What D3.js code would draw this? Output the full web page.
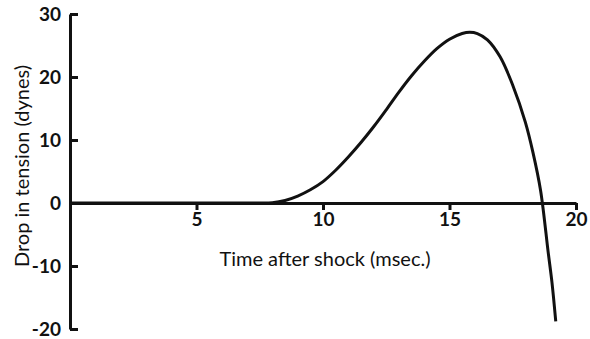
<!DOCTYPE html>
<html>
<head>
<meta charset="utf-8">
<script src="https://cdn.jsdelivr.net/npm/d3@7"></script>
<style>
  body { margin: 0; background: #fff; }
  svg text { font-family: Lato, "Open Sans", sans-serif; fill: #111; }
</style>
</head>
<body>
<div id="chart"></div>
<script>
// values
var timeMs = [0, 3, 6, 7.5, 8, 8.5, 9, 9.5, 10, 10.5, 11, 11.5, 12, 12.5, 13, 13.5, 14, 14.5, 15, 15.5, 15.8, 16.1, 16.5, 17, 17.5, 18, 18.3, 18.6, 18.9, 19.05, 19.2]
var dropDynes = [0, 0, 0, 0, 0.05, 0.4, 1.1, 2.1, 3.4, 5.2, 7.3, 9.6, 12.1, 14.8, 17.6, 20.2, 22.5, 24.5, 26.0, 26.9, 27.1, 26.9, 25.9, 23.2, 18.7, 12.8, 8.0, 2.0, -7.8, -12.6, -18.8]
var xTicks = [5, 10, 15, 20]
var yTicks = [-20, -10, 0, 10, 20, 30]

var width = 590
var height = 339

var svg = d3.select('#chart')
  .append('svg')
  .attr('width', width)
  .attr('height', height)

var xScale = d3.scaleLinear()
  .domain([0, 20])
  .range([70, 576])
var yScale = d3.scaleLinear()
  .domain([-20, 30])
  .range([329, 14])

var points = timeMs.map(function (t, i) { return [t, dropDynes[i]] })

// y axis, ticks pointing inward
var yAxis = d3.axisLeft(yScale)
  .tickValues(yTicks)
  .tickSize(-8)
  .tickSizeOuter(0)
  .tickPadding(9)
  .tickFormat(function (d) { return String(d) })

svg.append('g')
  .attr('class', 'axis y-axis')
  .attr('transform', 'translate(' + xScale(0) + ',0)')
  .call(yAxis)

// x axis drawn along zero
var xAxis = d3.axisBottom(xScale)
  .tickValues(xTicks)
  .tickSize(7)
  .tickSizeOuter(0)
  .tickPadding(3)

svg.append('g')
  .attr('class', 'axis x-axis')
  .attr('transform', 'translate(0,' + yScale(0) + ')')
  .call(xAxis)

svg.selectAll('.axis path, .axis line')
  .attr('stroke', '#111')
  .attr('stroke-width', 3)
svg.selectAll('.axis text')
  .attr('font-size', 19)
  .attr('font-weight', 'bold')
  .attr('fill', '#111')

var line = d3.line()
  .x(function (d) { return xScale(d[0]) })
  .y(function (d) { return yScale(d[1]) })
  .curve(d3.curveCatmullRom.alpha(0.5))

svg.append('path')
  .datum(points)
  .attr('d', line)
  .attr('fill', 'none')
  .attr('stroke', '#111')
  .attr('stroke-width', 3)

svg.append('text')
  .attr('x', 325)
  .attr('y', 266)
  .attr('text-anchor', 'middle')
  .attr('font-size', 20)
  .text('Time after shock (msec.)')

svg.append('text')
  .attr('transform', 'translate(29,166) rotate(-90)')
  .attr('text-anchor', 'middle')
  .attr('font-size', 20)
  .text('Drop in tension (dynes)')
</script>
</body>
</html>
